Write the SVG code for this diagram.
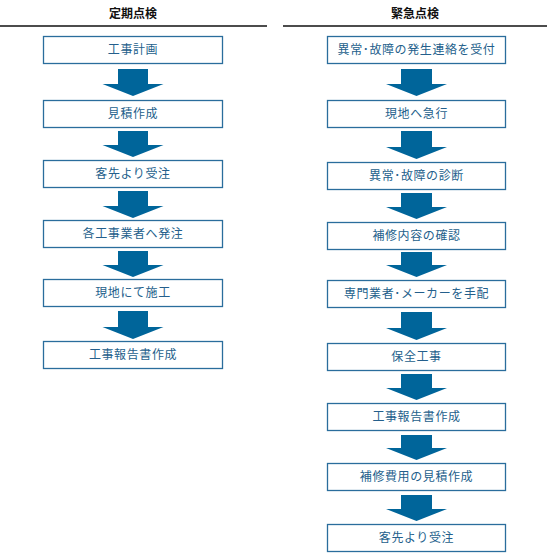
<svg xmlns="http://www.w3.org/2000/svg" width="547" height="555" viewBox="0 0 547 555">
<style>
.hd{font-family:"Noto Sans CJK JP","Noto Sans",sans-serif;font-size:12px;font-weight:bold;fill:#111;text-anchor:middle}
.rule{stroke:#111;stroke-width:1.5}
.box{fill:#fff;stroke:#2a6d9c;stroke-width:1.3}
.lb{font-family:"Noto Sans CJK JP","Noto Sans",sans-serif;font-size:12px;fill:#245f8c;text-anchor:middle;letter-spacing:0.6px}
.ar{fill:#00659a}
</style>
<rect width="547" height="555" fill="#fff"/>
<g id="headers">
<text class="hd" x="133" y="18">定期点検</text>
<line class="rule" x1="0" y1="26" x2="267" y2="26"/>
<text class="hd" x="415" y="18">緊急点検</text>
<line class="rule" x1="283" y1="26" x2="547" y2="26"/>
</g>
<g id="connectors">
<path class="ar" d="M118 69H148V84H163.5L133 96L102.5 84H118Z"/>
<path class="ar" d="M118 131H148V145H163.5L133 157L102.5 145H118Z"/>
<path class="ar" d="M118 191H148V206H163.5L133 218L102.5 206H118Z"/>
<path class="ar" d="M118 251H148V265H163.5L133 277L102.5 265H118Z"/>
<path class="ar" d="M118 311H148V327H163.5L133 339L102.5 327H118Z"/>
<path class="ar" d="M401 69H432V84H447L416.5 96L386 84H401Z"/>
<path class="ar" d="M401 131H432V147H447L416.5 159L386 147H401Z"/>
<path class="ar" d="M401 193H432V207H447L416.5 219L386 207H401Z"/>
<path class="ar" d="M401 252H432V265H447L416.5 277L386 265H401Z"/>
<path class="ar" d="M401 312H432V328H447L416.5 340L386 328H401Z"/>
<path class="ar" d="M401 374H432V388H447L416.5 400L386 388H401Z"/>
<path class="ar" d="M401 435H432V448H447L416.5 460L386 448H401Z"/>
<path class="ar" d="M401 495H432V509H447L416.5 521L386 509H401Z"/>
</g>
<g id="L1"><rect class="box" x="43.5" y="36.5" width="179" height="27"/><text class="lb" x="133" y="54">工事計画</text></g>
<g id="L2"><rect class="box" x="43.5" y="100.5" width="179" height="27"/><text class="lb" x="133" y="118">見積作成</text></g>
<g id="L3"><rect class="box" x="43.5" y="160.5" width="179" height="27"/><text class="lb" x="133" y="178">客先より受注</text></g>
<g id="L4"><rect class="box" x="43.5" y="220.5" width="179" height="27"/><text class="lb" x="133" y="238">各工事業者へ発注</text></g>
<g id="L5"><rect class="box" x="43.5" y="279.5" width="179" height="27"/><text class="lb" x="133" y="297">現地にて施工</text></g>
<g id="L6"><rect class="box" x="43.5" y="341.5" width="179" height="27"/><text class="lb" x="133" y="359">工事報告書作成</text></g>
<g id="R1"><rect class="box" x="327.5" y="36.5" width="178" height="27"/><text class="lb" x="416.5" y="54">異常･故障の発生連絡を受付</text></g>
<g id="R2"><rect class="box" x="327.5" y="100.5" width="178" height="27"/><text class="lb" x="416.5" y="118">現地へ急行</text></g>
<g id="R3"><rect class="box" x="327.5" y="162.5" width="178" height="27"/><text class="lb" x="416.5" y="180">異常･故障の診断</text></g>
<g id="R4"><rect class="box" x="327.5" y="222.5" width="178" height="27"/><text class="lb" x="416.5" y="240">補修内容の確認</text></g>
<g id="R5"><rect class="box" x="327.5" y="280.5" width="178" height="27"/><text class="lb" x="416.5" y="298">専門業者･メーカーを手配</text></g>
<g id="R6"><rect class="box" x="327.5" y="343.5" width="178" height="27"/><text class="lb" x="416.5" y="361">保全工事</text></g>
<g id="R7"><rect class="box" x="327.5" y="403.5" width="178" height="27"/><text class="lb" x="416.5" y="421">工事報告書作成</text></g>
<g id="R8"><rect class="box" x="327.5" y="463.5" width="178" height="27"/><text class="lb" x="416.5" y="481">補修費用の見積作成</text></g>
<g id="R9"><rect class="box" x="327.5" y="524.5" width="178" height="27"/><text class="lb" x="416.5" y="542">客先より受注</text></g>
</svg>
